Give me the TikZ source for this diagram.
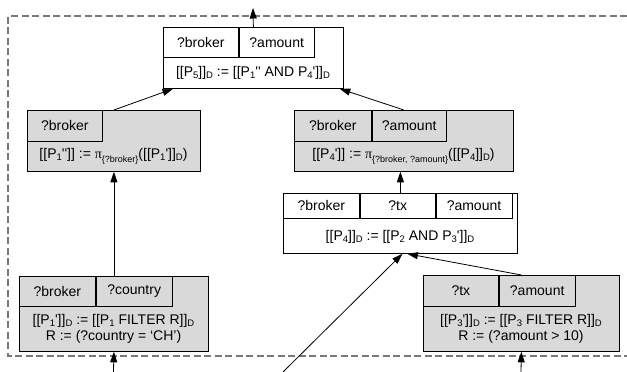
\documentclass[tikz,border=0pt]{standalone}
\usepackage{fontspec}
\setmainfont{Liberation Sans}
\newfontfamily\serifgr{Liberation Serif}
\usetikzlibrary{arrows.meta,calc}
\definecolor{boxgray}{RGB}{217,217,217}
\definecolor{dashgray}{RGB}{120,120,120}
\newcommand\sbs[1]{\raisebox{-0.3ex}{\fontsize{9.5}{9.5}\selectfont #1}}
\newcommand\pisub[1]{\raisebox{-0.55ex}{\fontsize{9}{9}\selectfont #1}}
\newcommand\pr{\textquotesingle}
\begin{document}
\begin{tikzpicture}[x=1pt,y=-1pt,
  font=\fontsize{14}{16}\selectfont,
  outer/.style={draw=black,line width=0.8pt,inner sep=0pt,anchor=north west},
  grayfill/.style={fill=boxgray},
  cell/.style={draw=black,line width=0.8pt,inner sep=0pt,anchor=north west,minimum width=75pt},
  formula/.style={inner sep=0pt,align=center},
  conn/.style={draw=black,line width=0.8pt,-{Triangle[length=10.5pt,width=7pt]}},
  frame/.style={draw=dashgray,line width=1.1pt,dash pattern=on 7pt off 3.5pt}
]
\useasboundingbox (0,0) rectangle (627,372);
% dashed frame
\draw[frame] (627,16) -- (8,16) -- (8,356) -- (627,356);

% P5
\node[outer,minimum width=180pt,minimum height=61pt] (p5) at (163,27) {};
\node[cell,minimum height=30pt] (p5a) at (163,27) {?broker};
\node[cell,minimum height=30pt] (p5b) at (p5a.north east) {?amount};
\node[formula] (p5f) at (253,72.5) {[[P\sbs{5}]]\sbs{D} := [[P\sbs{1}\pr\pr{} AND P\sbs{4}\pr]]\sbs{D}};

% P1''
\node[outer,grayfill,minimum width=173pt,minimum height=61pt] (p1pp) at (27,110) {};
\node[cell,minimum height=31pt] (p1ppa) at (27,110) {?broker};
\node[formula] (p1ppf) at (113.5,156) {[[P\sbs{1}\pr\pr]] := {\serifgr π}\pisub{\{?broker\}}([[P\sbs{1}\pr]]\sbs{D})};

% P4'
\node[outer,grayfill,minimum width=219pt,minimum height=61pt] (p4p) at (294,110) {};
\node[cell,minimum height=31pt,minimum width=77pt] (p4pa) at (294,110) {?broker};
\node[cell,minimum height=31pt,minimum width=74pt] (p4pb) at (p4pa.north east) {?amount};
\node[formula] (p4pf) at (403.5,156) {[[P\sbs{4}\pr]] := {\serifgr π}\pisub{\{?broker, ?amount\}}([[P\sbs{4}]]\sbs{D})};

% P4
\node[outer,minimum width=234pt,minimum height=60pt] (p4) at (283,193) {};
\node[cell,minimum height=25pt,minimum width=76pt] (p4a) at (283,193) {?broker};
\node[cell,minimum height=25pt,minimum width=75pt] (p4b) at (p4a.north east) {?tx};
\node[cell,minimum height=25pt,minimum width=76pt] (p4c) at (p4b.north east) {?amount};
\node[formula] (p4f) at (400,237) {[[P\sbs{4}]]\sbs{D} := [[P\sbs{2} AND P\sbs{3}\pr]]\sbs{D}};

% P1'
\node[outer,grayfill,minimum width=189pt,minimum height=75pt] (p1p) at (19,276) {};
\node[cell,minimum height=30pt,minimum width=76pt] (p1pa) at (19,276) {?broker};
\node[cell,minimum height=30pt,minimum width=76pt] (p1pb) at (p1pa.north east) {?country};
\node[formula] (p1pf) at (113.5,328.5) {[[P\sbs{1}\pr]]\sbs{D} := [[P\sbs{1} FILTER R]]\sbs{D}\\R := (?country = `CH')};

% P3'
\node[outer,grayfill,minimum width=196pt,minimum height=76pt] (p3p) at (423,275) {};
\node[cell,minimum height=31pt,minimum width=75pt] (p3pa) at (423,275) {?tx};
\node[cell,minimum height=31pt,minimum width=76pt] (p3pb) at (p3pa.north east) {?amount};
\node[formula] (p3pf) at (521,328.5) {[[P\sbs{3}\pr]]\sbs{D} := [[P\sbs{3} FILTER R]]\sbs{D}\\R := (?amount > 10)};

% free ends
\coordinate (out) at (253,8);
\coordinate (in1) at (113.5,372);
\coordinate (in2) at (283,372);
\coordinate (in3) at (521,372);

% connectors
\draw[conn] (p5.north) -- (out);
\draw[conn] (p1pp.north) -- ($(p5.south west)+(10,0)$);
\draw[conn] (p4p.north) -- ($(p5.south east)+(-4,0)$);
\draw[conn] (p4.north) -- (p4.north |- p4p.south);
\draw[conn] (p1p.north) -- (p1pp.south);
\draw[conn] (in1) -- (p1p.south);
\draw[conn] (in2) -- ($(p4.south)+(2,0)$);
\draw[conn] (p3p.north) -- ($(p4.south)+(7,0)$);
\draw[conn] (in3) -- (p3p.south);
\end{tikzpicture}
\end{document}
